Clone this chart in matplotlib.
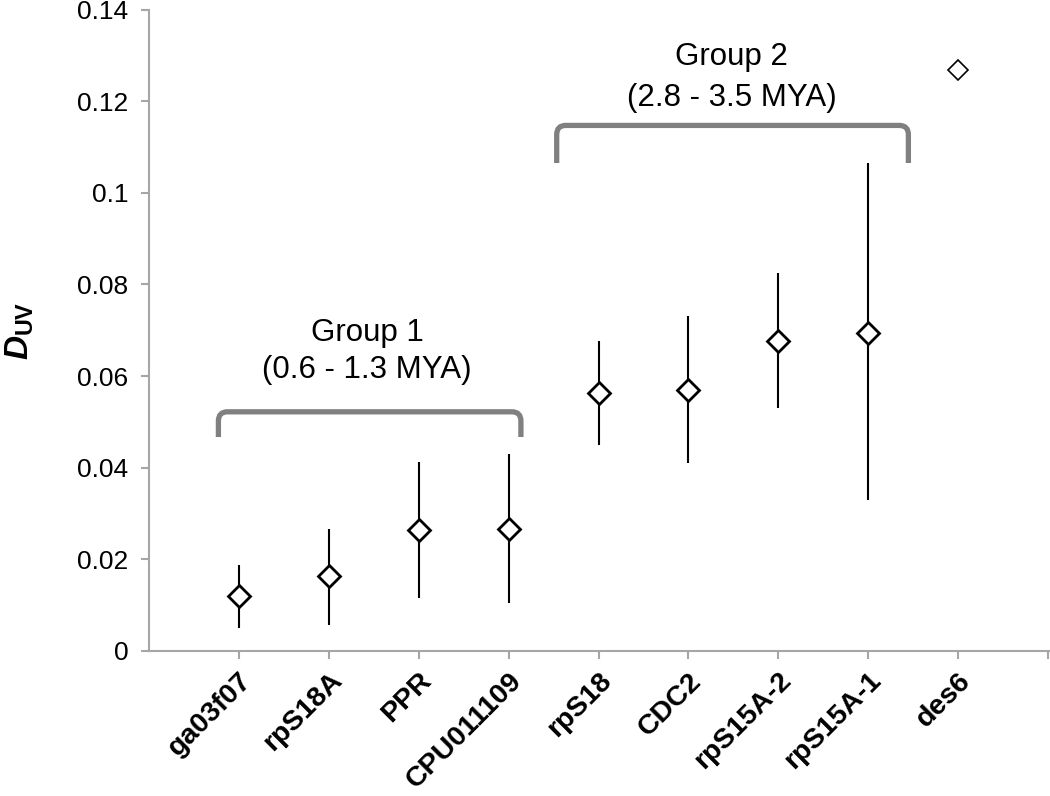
import numpy as np
import matplotlib
matplotlib.use("Agg")
import matplotlib.pyplot as plt
from matplotlib.path import Path
from matplotlib.patches import PathPatch
import matplotlib.transforms as mtransforms

plt.rcParams['font.family'] = ['Liberation Sans', 'DejaVu Sans']
plt.rcParams['mathtext.fontset'] = 'custom'
plt.rcParams['mathtext.it'] = 'Liberation Sans:italic:bold'
plt.rcParams['mathtext.bf'] = 'Liberation Sans:bold'
plt.rcParams['mathtext.rm'] = 'Liberation Sans'

genes = ['ga03f07', 'rpS18A', 'PPR', 'CPU011109', 'rpS18', 'CDC2',
         'rpS15A-2', 'rpS15A-1', 'des6']
duv = [0.0120, 0.0163, 0.0265, 0.0267, 0.0562, 0.0570, 0.0676, 0.0695, 0.1269]
ci_upper = [0.0187, 0.0267, 0.0412, 0.0429, 0.0676, 0.0732, 0.0824, 0.1064, np.nan]
ci_lower = [0.0051, 0.0057, 0.0115, 0.0104, 0.0449, 0.0410, 0.0530, 0.0329, np.nan]
yticks = [0, 0.02, 0.04, 0.06, 0.08, 0.1, 0.12, 0.14]
ytick_labels = ['0', '0.02', '0.04', '0.06', '0.08', '0.1', '0.12', '0.14']
group_labels = [('Group 1', '(0.6 - 1.3 MYA)'), ('Group 2', '(2.8 - 3.5 MYA)')]

W, H = 1050, 796
fig = plt.figure(figsize=(W / 100, H / 100), dpi=100)
px_unit = 89.9
left_px, bottom_px, top_px = 149, 651, 9.5
xmin, xmax = -1, 10
ax = fig.add_axes([left_px / W, 1 - bottom_px / H,
                   (xmax - xmin) * px_unit / W, (bottom_px - top_px) / H])
ax.set_xlim(xmin, xmax)
ax.set_ylim(0, 0.14)

x = np.arange(len(genes))
duv_a = np.array(duv)
up = np.array(ci_upper)
lo = np.array(ci_lower)
n = len(genes) - 1
ax.errorbar(x[:n], duv_a[:n], yerr=[duv_a[:n] - lo[:n], up[:n] - duv_a[:n]],
            fmt='D', ms=10.8, mfc='white', mec='black', mew=2.0,
            ecolor='black', elinewidth=1.5, capsize=0, zorder=3)
ax.plot(x[n:], duv_a[n:], 'D', ms=10.5, mfc='white', mec='black', mew=1.2, zorder=3)

for s in ['top', 'right']:
    ax.spines[s].set_visible(False)
for s in ['left', 'bottom']:
    ax.spines[s].set_color('#a6a6a6')
    ax.spines[s].set_linewidth(1.5)

ax.set_yticks(yticks)
ax.set_yticklabels(ytick_labels, fontsize=19)
ax.set_xticks(list(range(0, 10)))
ax.set_xticklabels(genes + [''], fontsize=20.5, fontweight='bold',
                   rotation=45, ha='right', rotation_mode='anchor')
offset = mtransforms.ScaledTranslation(6 / 100, 0, fig.dpi_scale_trans)
for lab in ax.get_xticklabels():
    lab.set_transform(lab.get_transform() + offset)
ax.tick_params(axis='both', direction='out', length=6, width=1.5, color='#a6a6a6')
ax.tick_params(axis='y', pad=9)
ax.tick_params(axis='x', pad=6)

fig.text(20 / W, 1 - 331 / H, r'$D_{\mathbf{UV}}$', rotation=90,
         ha='center', va='center', fontsize=24)


def bracket(x0, x1, ytop, ybot, rx=0.1, ry=0.002):
    verts = [(x0, ybot), (x0, ytop - ry), (x0, ytop), (x0 + rx, ytop),
             (x1 - rx, ytop), (x1, ytop), (x1, ytop - ry), (x1, ybot)]
    codes = [Path.MOVETO, Path.LINETO, Path.CURVE3, Path.CURVE3,
             Path.LINETO, Path.CURVE3, Path.CURVE3, Path.LINETO]
    ax.add_patch(PathPatch(Path(verts, codes), fill=False, edgecolor='#808080',
                           linewidth=3.8, capstyle='butt', joinstyle='round',
                           zorder=2))


bracket(-0.228, 3.137, 0.0522, 0.0467)
bracket(3.535, 7.447, 0.1147, 0.1065)

ax.text(1.424, 0.0694, group_labels[0][0], ha='center', va='center', fontsize=22.5)
ax.text(1.424, 0.0613, group_labels[0][1], ha='center', va='center', fontsize=22.5)
ax.text(5.484, 0.1296, group_labels[1][0], ha='center', va='center', fontsize=22.5)
ax.text(5.484, 0.1206, group_labels[1][1], ha='center', va='center', fontsize=22.5)

fig.savefig('out.png', dpi=100)
